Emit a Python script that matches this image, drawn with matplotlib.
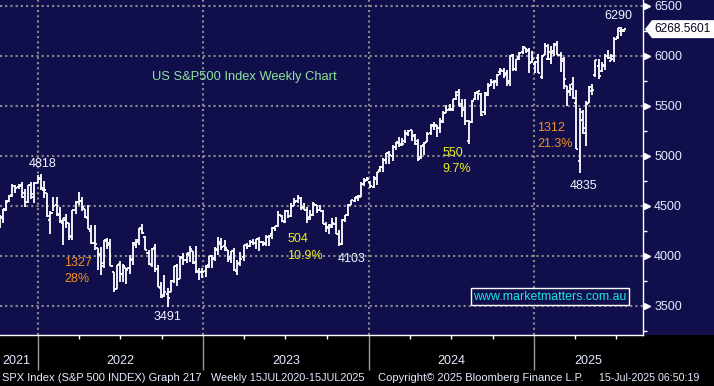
import datetime as dt
import numpy as np
import pandas as pd
import matplotlib
matplotlib.use("Agg")
import matplotlib.pyplot as plt
import matplotlib.dates as mdates
from matplotlib.collections import LineCollection
from matplotlib.patches import Polygon, Rectangle

plt.rcParams['font.family'] = ['Liberation Sans', 'DejaVu Sans']

# weekly S&P 500 bars, week ending Fri 1 Oct 2021 .. Fri 18 Jul 2025
opens = [
    4455, 4348, 4385, 4464, 4548, 4610, 4701, 4689, 4712, 4628, 4545, 4710, 4587, 4733,
    4778, 4656, 4632, 4357, 4432, 4506, 4412, 4332, 4363, 4328, 4188, 4462, 4541, 4548,
    4474, 4385, 4255, 4131, 4082, 4013, 3927, 4151, 4134, 3838, 3674, 3920, 3818, 3880,
    3883, 3966, 4113, 4158, 4270, 4195, 4034, 3909, 4084, 3873, 3682, 3610, 3624, 3640,
    3753, 3902, 3770, 3982, 3956, 4006, 4052, 3939, 3844, 3843,
    3853, 3910, 3999, 3979, 4063, 4119, 4096, 4058, 3992, 4055, 3853, 3934, 3986, 4113,
    4100, 4137, 4134, 4167, 4137, 4126, 4190, 4220, 4283, 4300, 4405, 4344, 4455, 4404,
    4505, 4547, 4584, 4492, 4460, 4389, 4415, 4510, 4464, 4453, 4316, 4284, 4290, 4321,
    4224, 4120, 4357, 4406, 4511, 4555, 4585, 4593, 4725, 4759,
    4745, 4690, 4772, 4856, 4888, 4957, 5027, 4999, 5094, 5131, 5111, 5154, 5219, 5258,
    5211, 5149, 4987, 5114, 5142, 5233, 5310, 5315, 5284, 5341, 5431, 5473, 5471, 5572,
    5638, 5525, 5477, 5151, 5344, 5566, 5638, 5624, 5442, 5615, 5712, 5737, 5737, 5838,
    5855, 5833, 5747, 6009, 5875, 5992, 6038, 6083, 6060, 5945, 5920,
    5982, 5788, 6015, 5969, 5969, 6046, 6121, 6014, 5969, 5705, 5653, 5718, 5527, 4954,
    5442, 5232, 5534, 5655, 5807, 5902, 5855, 5897, 6005, 5954, 6004, 6193, 6249, 6255,
]
highs = [
    4466, 4412, 4475, 4559, 4608, 4718, 4714, 4718, 4744, 4672, 4713, 4744, 4740, 4808,
    4819, 4749, 4632, 4454, 4595, 4590, 4489, 4385, 4416, 4329, 4465, 4546, 4637, 4593,
    4474, 4513, 4309, 4307, 4082, 4090, 4158, 4178, 4169, 3838, 3914, 3950, 3918, 3880,
    4013, 4140, 4167, 4281, 4325, 4204, 4062, 4077, 4120, 3907, 3736, 3807, 3677, 3757,
    3905, 3921, 4001, 4028, 4034, 4101, 4052, 4101, 3876, 3878,
    3906, 4003, 4015, 4095, 4195, 4176, 4160, 4058, 4048, 4078, 3964, 4039, 4110, 4133,
    4164, 4170, 4170, 4186, 4155, 4212, 4213, 4290, 4299, 4449, 4407, 4458, 4456, 4528,
    4578, 4607, 4595, 4527, 4490, 4458, 4541, 4515, 4511, 4465, 4339, 4320, 4385, 4394,
    4259, 4373, 4415, 4521, 4560, 4595, 4609, 4738, 4778, 4793,
    4755, 4802, 4842, 4904, 4976, 5030, 5048, 5111, 5140, 5189, 5179, 5262, 5264, 5264,
    5221, 5168, 5114, 5139, 5240, 5325, 5341, 5315, 5376, 5448, 5506, 5524, 5570, 5655,
    5670, 5566, 5566, 5358, 5556, 5643, 5651, 5626, 5636, 5733, 5767, 5765, 5823, 5878,
    5879, 5862, 6012, 6018, 5973, 6044, 6099, 6085, 6080, 6050, 5949,
    6022, 6014, 6128, 6120, 6101, 6127, 6147, 6044, 5986, 5705, 5716, 5786, 5656, 5481,
    5459, 5551, 5700, 5721, 5959, 5968, 5944, 6017, 6059, 6019, 6188, 6284, 6290, 6273,
]
lows = [
    4288, 4278, 4330, 4448, 4537, 4595, 4630, 4672, 4585, 4495, 4531, 4572, 4532, 4733,
    4662, 4582, 4395, 4222, 4451, 4401, 4327, 4115, 4279, 4157, 4161, 4424, 4507, 4450,
    4381, 4267, 4124, 4062, 3859, 3810, 3876, 4073, 3900, 3637, 3667, 3739, 3743, 3722,
    3820, 3911, 4080, 4112, 4218, 4057, 3907, 3886, 3838, 3693, 3584, 3591, 3491, 3638,
    3733, 3698, 3768, 3907, 3934, 3938, 3918, 3828, 3765, 3783,
    3794, 3877, 3885, 3949, 4015, 4060, 4047, 3943, 3928, 3847, 3808, 3901, 3950, 4070,
    4086, 4114, 4071, 4049, 4099, 4098, 4103, 4166, 4254, 4294, 4341, 4328, 4385, 4389,
    4502, 4528, 4464, 4458, 4335, 4356, 4403, 4430, 4448, 4316, 4238, 4216, 4283, 4224,
    4103, 4109, 4340, 4401, 4507, 4538, 4546, 4593, 4697, 4751,
    4682, 4682, 4714, 4845, 4845, 4918, 4920, 4946, 5058, 5092, 5104, 5131, 5203, 5146,
    5108, 4953, 4971, 5011, 5142, 5211, 5256, 5191, 5234, 5331, 5429, 5447, 5448, 5562,
    5497, 5391, 5309, 5120, 5330, 5560, 5561, 5402, 5406, 5603, 5703, 5675, 5705, 5808,
    5785, 5703, 5696, 5853, 5855, 5958, 6024, 6033, 5832, 5932, 5829,
    5826, 5773, 6009, 5962, 5923, 6004, 6009, 5837, 5667, 5505, 5602, 5572, 5069, 4835,
    5220, 5101, 5528, 5606, 5786, 5768, 5842, 5862, 5969, 5952, 5943, 6174, 6201, 6243,
]
closes = [
    4357, 4391, 4471, 4545, 4605, 4697, 4683, 4698, 4595, 4538, 4712, 4620, 4726, 4766,
    4677, 4663, 4398, 4432, 4501, 4419, 4349, 4385, 4329, 4204, 4463, 4543, 4546, 4488,
    4392, 4272, 4132, 4123, 4023, 3901, 4158, 4109, 3901, 3675, 3912, 3825, 3899, 3863,
    3962, 4130, 4145, 4280, 4228, 4058, 3924, 4067, 3873, 3693, 3586, 3640, 3583, 3752,
    3901, 3770, 3993, 3965, 4026, 4072, 3934, 3852, 3845, 3839,
    3895, 3999, 3973, 4071, 4136, 4090, 4079, 3970, 4046, 3862, 3917, 3971, 4109, 4105,
    4138, 4133, 4169, 4136, 4124, 4192, 4205, 4282, 4299, 4410, 4348, 4450, 4399, 4505,
    4536, 4582, 4478, 4464, 4370, 4406, 4516, 4457, 4450, 4320, 4288, 4308, 4328, 4224,
    4117, 4358, 4415, 4514, 4559, 4595, 4604, 4719, 4755, 4770,
    4697, 4784, 4840, 4891, 4959, 5027, 5006, 5089, 5137, 5124, 5117, 5234, 5254, 5204,
    5123, 4967, 5100, 5128, 5223, 5303, 5305, 5278, 5347, 5432, 5465, 5460, 5567, 5615,
    5505, 5459, 5347, 5344, 5554, 5634, 5648, 5408, 5626, 5703, 5738, 5751, 5815, 5865,
    5808, 5729, 5996, 5871, 5969, 6032, 6090, 6051, 5931, 5971, 5942,
    5827, 5997, 6101, 6041, 6026, 6115, 6013, 5955, 5770, 5639, 5667, 5581, 5074, 5363,
    5283, 5525, 5686, 5660, 5958, 5803, 5912, 6000, 5977, 5968, 6173, 6279, 6260, 6269,
]
last_price = 6268.5601
price_ticks = [3500, 4000, 4500, 5000, 5500, 6000, 6500]
years = [2021, 2022, 2023, 2024, 2025]

# (text, date, price, colour, align)
notes = [
    ("4818", "2022-01-10", 4920, "#f2f5ff", "center"),
    ("1327", "2022-02-27", 3930, "#f59120", "left"),
    ("28%", "2022-02-27", 3770, "#f59120", "left"),
    ("3491", "2022-10-15", 3390, "#f2f5ff", "center"),
    ("504", "2023-07-06", 4170, "#eef01c", "left"),
    ("10.9%", "2023-07-06", 4000, "#eef01c", "left"),
    ("4103", "2023-10-24", 3970, "#f2f5ff", "left"),
    ("550", "2024-06-12", 5030, "#eef01c", "left"),
    ("9.7%", "2024-06-12", 4870, "#eef01c", "left"),
    ("1312", "2025-01-08", 5280, "#f59120", "left"),
    ("21.3%", "2025-01-08", 5120, "#f59120", "left"),
    ("4835", "2025-04-19", 4700, "#f2f5ff", "center"),
    ("6290", "2025-07-06", 6400, "#f2f5ff", "center"),
]

navy = "#100f4c"
txt = "#e4ebff"
W, H = 714, 386

fig = plt.figure(figsize=(W / 100, H / 100), dpi=100)
fig.patch.set_facecolor(navy)
fig.add_artist(Rectangle((0, 0), 1, 51 / H, transform=fig.transFigure,
                         facecolor="black", edgecolor="none", zorder=0))
ax = fig.add_axes([0, 51 / H, 643 / W, 335 / H])
ax.set_facecolor(navy)

x = mdates.date2num(pd.date_range("2021-10-01", periods=len(closes), freq="W-FRI").to_pydatetime())
w = 4.5
segs = []
for xi, o, h, l, c in zip(x, opens, highs, lows, closes):
    segs.append([(xi, l), (xi, h)])
    segs.append([(xi - w, o), (xi, o)])
    segs.append([(xi, c), (xi + w, c)])
ax.add_collection(LineCollection(segs, colors="white", linewidths=1.3, capstyle="butt", zorder=3))

x0 = mdates.date2num(dt.datetime(2021, 10, 9))
x1 = mdates.date2num(dt.datetime(2025, 8, 29))
ax.set_xlim(x0, x1)
ax.set_ylim(3210, 6560)

for s in ["top", "left"]:
    ax.spines[s].set_visible(False)
for s in ["right", "bottom"]:
    ax.spines[s].set_color("white")
    ax.spines[s].set_linewidth(1.0)

# x axis: year separators + quarter ticks
ystarts = [mdates.date2num(dt.datetime(y, 1, 1)) for y in years[1:]]
qticks = [mdates.date2num(dt.datetime(y, m, 1)) for y in years for m in (4, 7, 10)]
ax.set_xticks(ystarts)
ax.set_xticklabels([])
ax.set_xticks([q for q in qticks if x0 < q < x1], minor=True)
ax.tick_params(axis="x", which="major", length=25, color="#9a9a9a", width=1)
ax.tick_params(axis="x", which="minor", length=3, color="white", width=1)
for i, y in enumerate(years):
    a = max(x0, mdates.date2num(dt.datetime(y, 1, 1)))
    b = min(x1, mdates.date2num(dt.datetime(y + 1, 1, 1)))
    ax.text((a + b) / 2 - (5 if i == 0 else 0), -26 / 335, str(y), transform=ax.get_xaxis_transform(),
            ha="center", va="center", color=txt, fontsize=9)

# y axis on the right
ax.yaxis.tick_right()
ax.set_yticks(price_ticks)
ax.set_yticklabels([str(p) for p in price_ticks], color=txt, fontsize=9)
ax.set_yticks([p + 250 for p in price_ticks[:-1]] + [3250], minor=True)
ax.tick_params(axis="y", which="major", length=0, pad=8)
ax.tick_params(axis="y", which="minor", length=3, color="white", width=1)
ax.plot([1.0055] * len(price_ticks), price_ticks, transform=ax.get_yaxis_transform(),
        ls="none", marker=">", ms=4.5, color="white", clip_on=False, zorder=5)

ax.grid(True, which="major", color="#8c8c8c", linestyle=(0, (1, 1.5)), linewidth=1.5)
ax.set_axisbelow(True)

ax.text(mdates.date2num(dt.datetime(2022, 9, 10)), 5790, "US S&P500 Index Weekly Chart",
        color="#8fe39a", fontsize=9.3, ha="left", va="center", zorder=4)
for t, d, p, col, ha in notes:
    ax.text(mdates.datestr2num(d), p, t, color=col, fontsize=9, ha=ha, va="center", zorder=4)

ax.text(mdates.date2num(dt.datetime(2025, 2, 5)), 3595, "www.marketmatters.com.au",
        color="#1ee6ea", fontsize=8.9, ha="center", va="center", zorder=4,
        bbox=dict(boxstyle="square,pad=0.2", facecolor=navy, edgecolor="white", linewidth=1))

# last price tag
yp = ax.transData.transform((x1, last_price))[1] / H
tag = [(645 / W, yp), (652 / W, yp + 9 / H), (1, yp + 9 / H), (1, yp - 9 / H), (652 / W, yp - 9 / H)]
fig.add_artist(Polygon(tag, closed=True, transform=fig.transFigure, facecolor="white",
                       edgecolor="none", zorder=6))
fig.text(654 / W, yp, f"{last_price:.4f}", color="#05051a", fontsize=8.6, ha="left", va="center", zorder=7)

# footer
fy = 8 / H
fig.text(2 / W, fy, "SPX Index (S&P 500 INDEX) Graph 217", color=txt, fontsize=8, va="center")
fig.text(211 / W, fy, "Weekly 15JUL2020-15JUL2025", color=txt, fontsize=7.8, va="center")
fig.text(378 / W, fy, "Copyright\u00a9 2025 Bloomberg Finance L.P.", color=txt, fontsize=8, va="center")
fig.text(599 / W, fy, "15-Jul-2025 06:50:19", color=txt, fontsize=7.7, va="center")

fig.savefig("out.png", dpi=100, facecolor=fig.get_facecolor())
